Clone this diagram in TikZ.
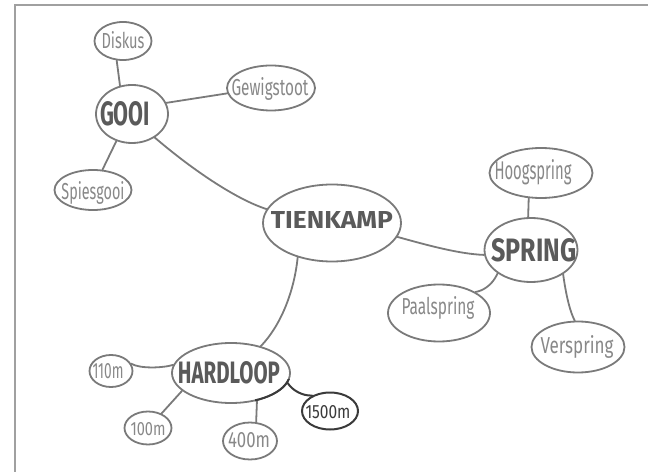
\documentclass[tikz,border=0pt]{standalone}
\usepackage{fontspec}
\setmainfont{Fira Sans}
\usetikzlibrary{shapes.geometric,calc}

\definecolor{pen}{HTML}{7A7A7A}
\definecolor{darkpen}{HTML}{3A3A3A}
\definecolor{frameink}{HTML}{A0A0A0}
\definecolor{capink}{HTML}{5A5A5A}
\definecolor{leafink}{HTML}{888888}

% hand lettering: text squeezed to a given width and height (in bp)
\newcommand\hand[3]{\resizebox{#1bp}{#2bp}{#3}}

\begin{document}
\begin{tikzpicture}[x=1bp,y=-1bp,
  bub/.style={ellipse, draw=pen, line width=1.8bp, inner sep=0pt},
  darkbub/.style={bub, draw=darkpen, line width=2bp},
  link/.style={draw=pen, line width=1.8bp, line cap=round},
  darklink/.style={draw=darkpen, line width=2bp, line cap=round},
  head/.style={anchor=base, inner sep=0pt, text=capink, font=\bfseries},
  leaf/.style={anchor=base, inner sep=0pt, text=leafink},
  frameline/.style={draw=frameink, line width=1.5bp}
]
\useasboundingbox (0,0) rectangle (648,472);

% page frame (top and left edges)
\coordinate (fbl) at (15,472);
\coordinate (ftl) at (15,5);
\coordinate (ftr) at (648,5);
\draw[frameline] (fbl) -- (ftl) -- (ftr);

% bubbles
\node[bub, minimum width=138bp, minimum height=77bp] (tk) at (332,223) {};
\node[bub, minimum width=72bp, minimum height=58bp] (gooi) at (132,114) {};
\node[bub, minimum width=57bp, minimum height=38bp] (diskus) at (123,41) {};
\node[bub, minimum width=88bp, minimum height=45bp] (gewig) at (271,88) {};
\node[bub, minimum width=77bp, minimum height=40bp] (spies) at (93,190) {};
\node[bub, minimum width=93bp, minimum height=64bp] (spring) at (531,250) {};
\node[bub, minimum width=103bp, minimum height=50bp] (hoog) at (541,173) {};
\node[bub, minimum width=102bp, minimum height=57bp] (paal) at (439,313) {};
\node[bub, minimum width=93bp, minimum height=51bp] (ver) at (578,347) {};
\node[bub, minimum width=118bp, minimum height=60bp] (hl) at (231,373) {};
\node[bub, minimum width=43bp, minimum height=32bp] (m110) at (111,371) {};
\node[bub, minimum width=47bp, minimum height=33bp] (m100) at (148,428) {};
\node[bub, minimum width=54bp, minimum height=37bp] (m400) at (250,441) {};
\node[darkbub, minimum width=56bp, minimum height=37bp] (m1500) at (330,411) {};

% lettering
\node[head] (tk-t) at (332,229) {\hand{122}{17}{TIENKAMP}};
\node[head] (gooi-t) at (125,126) {\hand{50}{24}{GOOI}};
\node[head] (spring-t) at (534,262) {\hand{85}{23}{SPRING}};
\node[head] (hl-t) at (229,383) {\hand{102}{22}{HARDLOOP}};
\node[leaf] (diskus-t) at (123,49) {\hand{43}{17}{Diskus}};
\node[leaf] (gewig-t) at (270,96) {\hand{77}{18}{Gewigstoot}};
\node[leaf] (spies-t) at (93,200) {\hand{63}{18}{Spiesgooi}};
\node[leaf] (hoog-t) at (533,180) {\hand{77}{20}{Hoogspring}};
\node[leaf] (paal-t) at (438,315) {\hand{73}{18}{Paalspring}};
\node[leaf] (ver-t) at (577,353) {\hand{73}{18}{Verspring}};
\node[leaf] (m110-t) at (108,378) {\hand{31}{15}{110m}};
\node[leaf] (m100-t) at (148,435) {\hand{35}{13}{100m}};
\node[leaf] (m400-t) at (249,447) {\hand{42}{15}{400m}};
\node[leaf, text=darkpen] (m1500-t) at (328,418) {\hand{45}{13}{1500m}};

% GOOI branch
\draw[link] (diskus.252) -- (gooi.113);
\draw[link] (gooi.18) -- (gewig.187);
\draw[link] (gooi.240) -- (spies.65);
\draw[link] (gooi.314) .. controls (195,172) and (238,200) .. (tk.168);

% SPRING branch
\draw[link] (tk.348) .. controls (430,246) and (460,254) .. (spring.186);
\draw[link] (spring.95) -- (hoog.244);
\draw[link] (spring.215) .. controls (492,286) and (482,291) .. (paal.30);
\draw[link] (spring.323) .. controls (566,295) and (570,312) .. (ver.97);

% HARDLOOP branch
\draw[link] (tk.225) .. controls (295,285) and (284,322) .. (hl.42);
\draw[link] (m110.20) .. controls (140,369) and (163,368) .. (hl.172);
\draw[link] (hl.200) -- (m100.47);
\draw[link] (hl.313) -- (m400.72);
\draw[darklink] (hl.350) .. controls (292,390) and (302,396) .. (m1500.139);

% darker stroke along the lower right of HARDLOOP
\begin{scope}
  \clip ($(hl.center)+(24,6)$) rectangle ($(hl.center)+(64,36)$);
  \draw[darkpen, line width=2bp] (hl.center) ellipse [x radius=59, y radius=30];
\end{scope}
\end{tikzpicture}
\end{document}
